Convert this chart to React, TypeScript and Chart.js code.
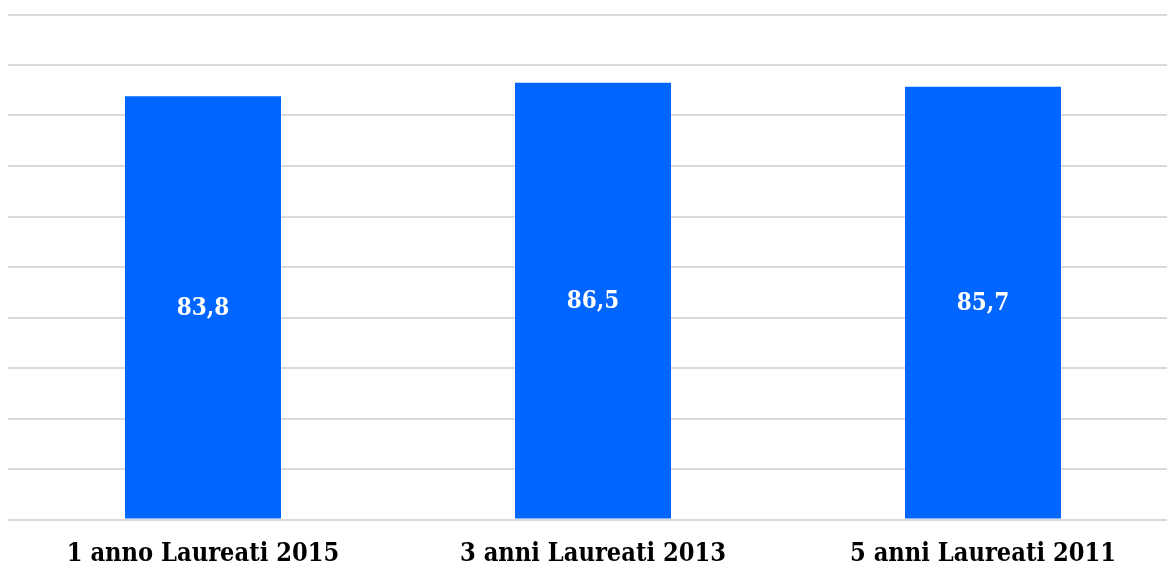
import React, { useEffect, useRef } from "react";
import { Chart, registerables } from "chart.js";

Chart.register(...registerables);

const categories = ["1 anno Laureati 2015", "3 anni Laureati 2013", "5 anni Laureati 2011"];
const values = [83.8, 86.5, 85.7];
const yMin = 0;
const yMax = 100;
const yStep = 10;

const barColor = "#0066FF";
const fontFamily = "'DejaVu Serif Condensed', 'DejaVu Serif', serif";

const centerLabels = {
  id: "centerLabels",
  afterDatasetsDraw(chart: any) {
    const ctx = chart.ctx;
    const meta = chart.getDatasetMeta(0);
    ctx.save();
    ctx.fillStyle = "#ffffff";
    ctx.font = `bold 24px ${fontFamily}`;
    ctx.textAlign = "center";
    ctx.textBaseline = "middle";
    meta.data.forEach((bar: any, i: number) => {
      const v = chart.data.datasets[0].data[i] as number;
      const txt = v.toFixed(1).replace(".", ",");
      ctx.fillText(txt, bar.x, (bar.y + bar.base) / 2 + 1);
    });
    ctx.restore();
  },
};

export default function App() {
  const ref = useRef<HTMLCanvasElement>(null);
  useEffect(() => {
    document.body.style.overflow = "hidden";
    const chart = new Chart(ref.current!, {
      type: "bar",
      data: {
        labels: categories,
        datasets: [
          {
            data: values,
            backgroundColor: barColor,
            barPercentage: 0.4,
            categoryPercentage: 1,
          },
        ],
      },
      options: {
        animation: false,
        responsive: false,
        maintainAspectRatio: false,
        layout: { padding: { top: 6.5, left: 0, right: 0, bottom: 0 } },
        plugins: { legend: { display: false }, tooltip: { enabled: false } },
        scales: {
          x: {
            grid: { display: false, drawTicks: false },
            border: { display: false },
            ticks: {
              color: "#000000",
              font: { family: fontFamily, size: 25.2, weight: "bold" },
              padding: 20,
              maxRotation: 0,
            },
            afterFit(scale: any) {
              scale.height = 47.5;
            },
          },
          y: {
            min: yMin,
            max: yMax,
            ticks: { display: false, stepSize: yStep },
            grid: { color: "#d9d9d9", lineWidth: 2, drawTicks: false },
            border: { display: false },
            afterFit(scale: any) {
              scale.width = 0;
            },
          },
        },
      },
      plugins: [centerLabels],
    });
    return () => chart.destroy();
  }, []);
  return (
    <div style={{ position: "fixed", left: 8, top: 8, width: 1170, height: 559 }}>
      <canvas ref={ref} width={1170} height={559} style={{ display: "block" }} />
    </div>
  );
}
